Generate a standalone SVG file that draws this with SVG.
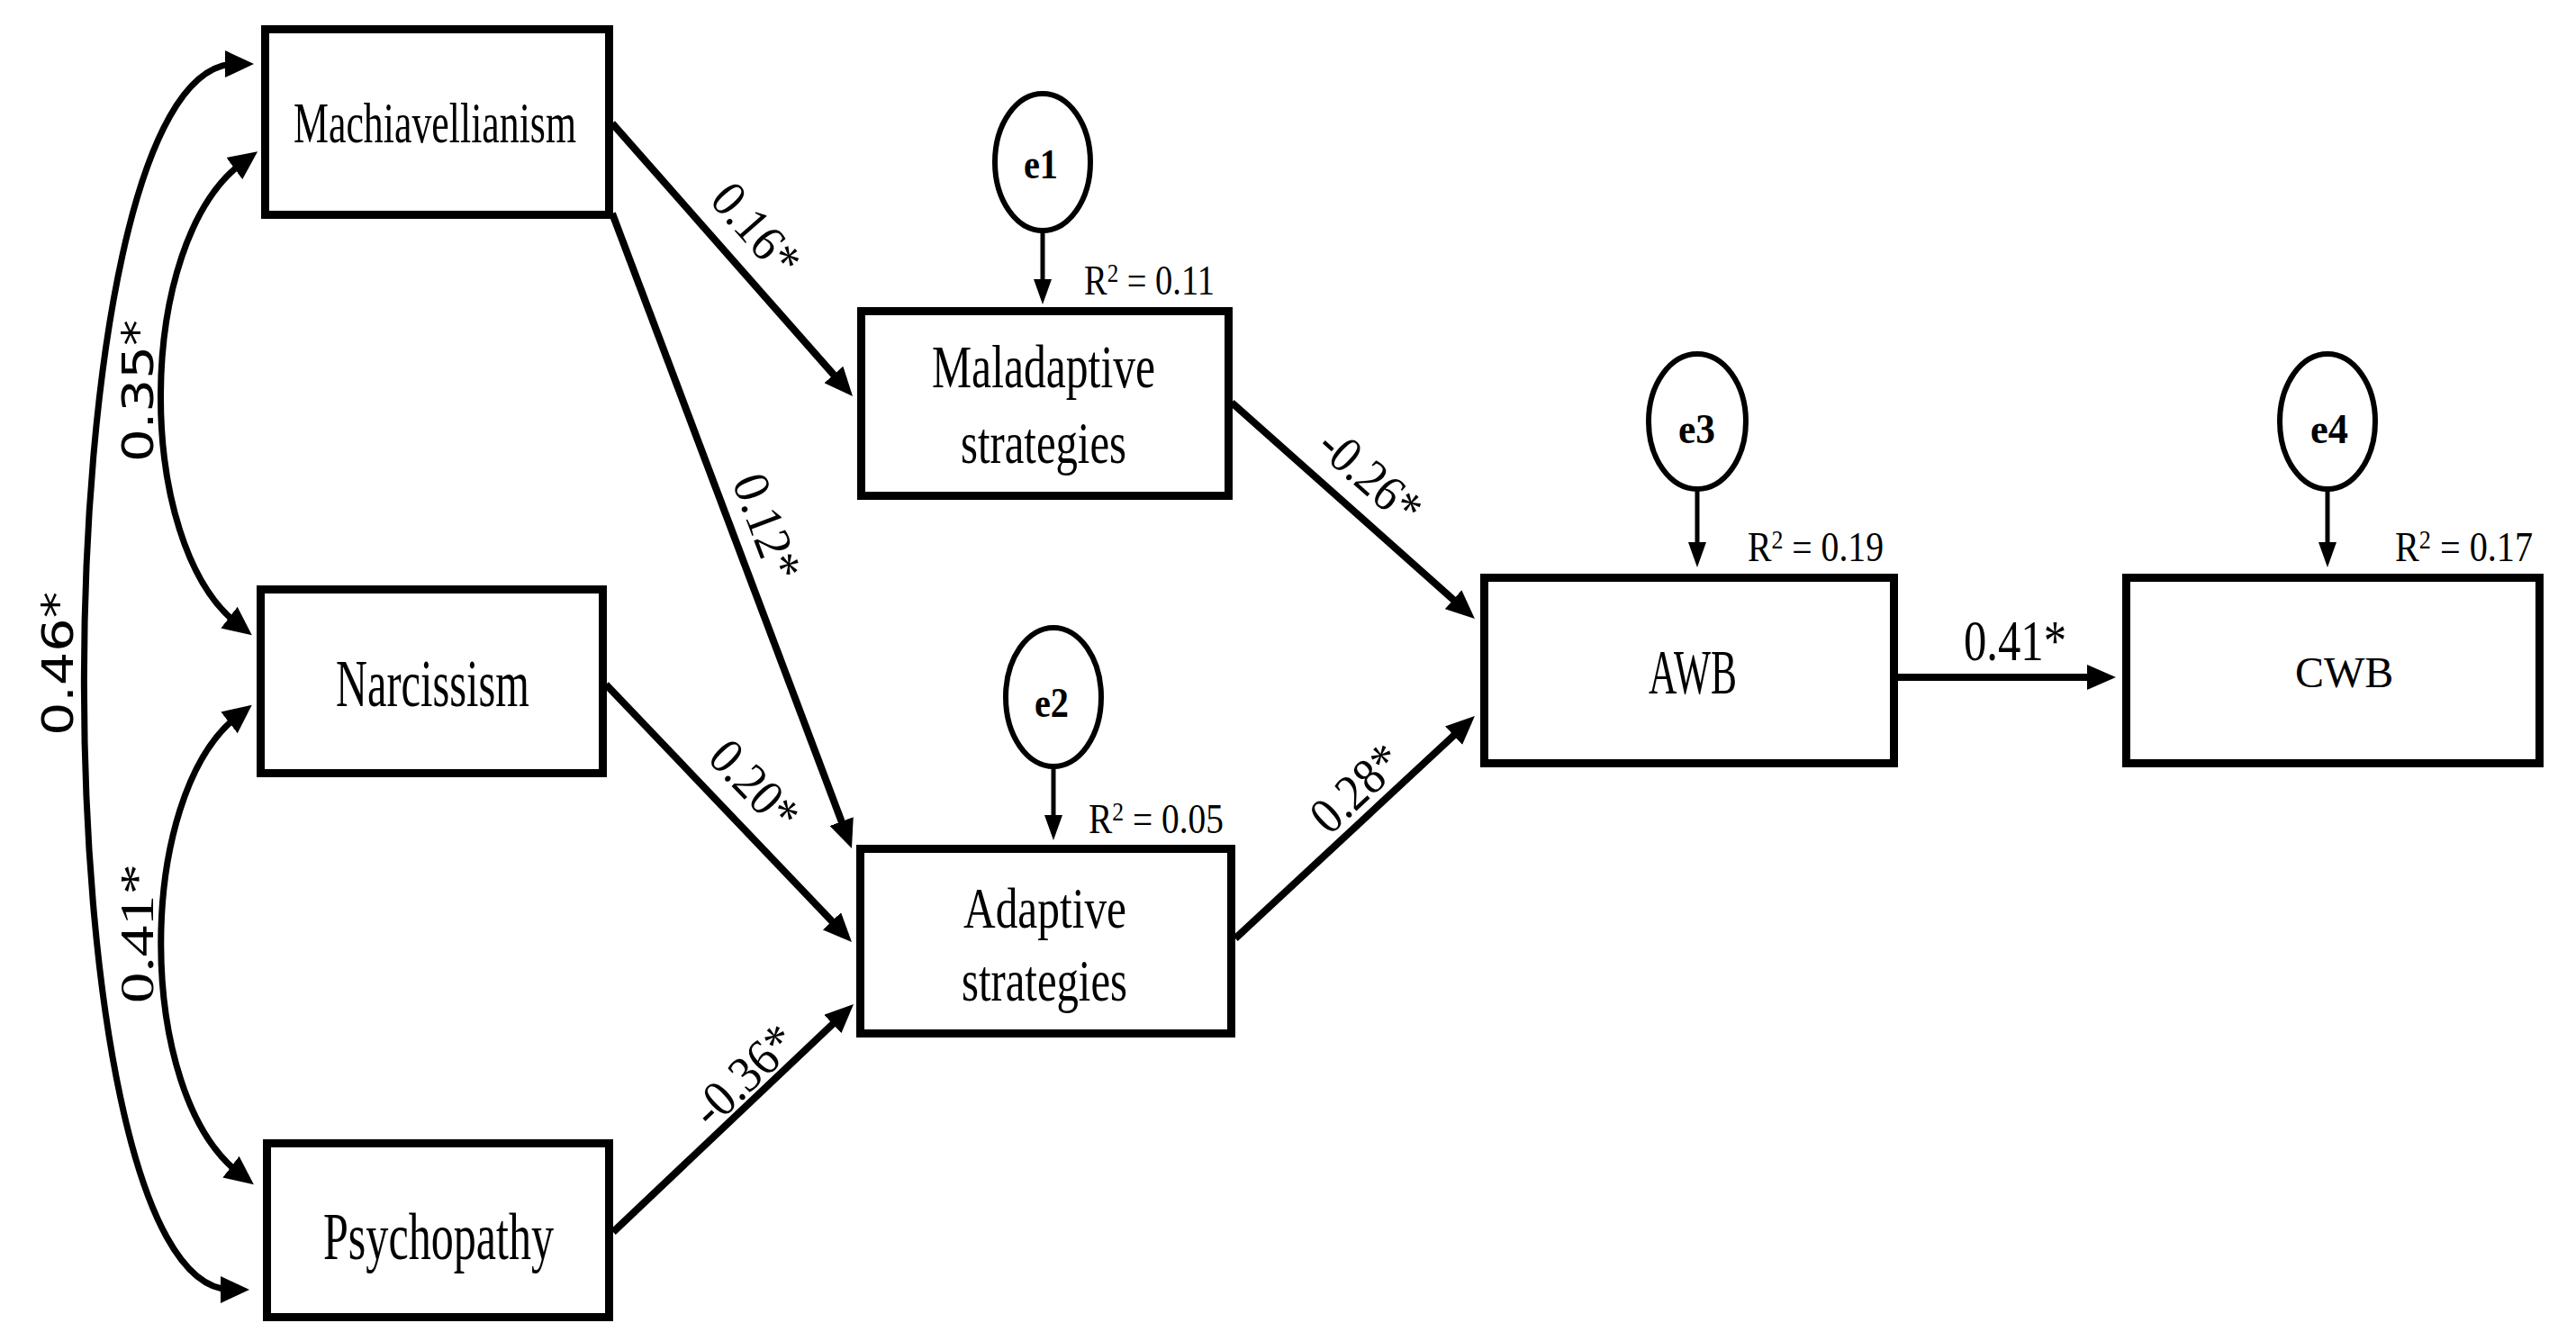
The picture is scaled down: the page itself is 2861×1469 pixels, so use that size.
<svg xmlns="http://www.w3.org/2000/svg" width="2861" height="1469" viewBox="0 0 2861 1469">
<style>
.box{fill:#fff;stroke:#000;stroke-width:9}
.lat{fill:#fff;stroke:#000;stroke-width:6}
.edge{fill:none;stroke:#000;stroke-width:8;marker-end:url(#arr)}
.cov{fill:none;stroke:#000;stroke-width:7;marker-start:url(#arrC);marker-end:url(#arrC)}
.err{fill:none;stroke:#000;stroke-width:5;marker-end:url(#arrS)}
.t{font-family:"Liberation Serif","Times New Roman",serif;fill:#000}
.s{font-family:"DejaVu Sans","Liberation Sans",sans-serif;fill:#000}
.b{font-weight:bold}
</style>
<defs>
<marker id="arr" markerUnits="userSpaceOnUse" markerWidth="32" markerHeight="28" refX="12" refY="14" orient="auto"><path d="M0,0 L32,14 L0,28 z" fill="#000"/></marker>
<marker id="arrC" markerUnits="userSpaceOnUse" markerWidth="32" markerHeight="30" refX="12" refY="15" orient="auto-start-reverse"><path d="M0,0 L32,15 L0,30 z" fill="#000"/></marker>
<marker id="arrS" markerUnits="userSpaceOnUse" markerWidth="28" markerHeight="20" refX="10" refY="10" orient="auto"><path d="M0,0 L28,10 L0,20 z" fill="#000"/></marker>
</defs>
<rect width="2861" height="1469" fill="#fff"/>

<g id="connectors">
<path class="cov" d="M262,71 C38,71 38,1432 257,1432"/>
<path class="cov" d="M270,180 C149,269 149,604 264,693"/>
<path class="cov" d="M264,795 C150,884 150,1214 266,1303"/>
<line class="edge" x1="680" y1="137" x2="933.8" y2="425"/>
<line class="edge" x1="680" y1="237" x2="938.9" y2="923.3"/>
<line class="edge" x1="673" y1="760" x2="932.2" y2="1031.5"/>
<line class="edge" x1="681" y1="1368" x2="933.5" y2="1128.8"/>
<line class="edge" x1="1368" y1="447" x2="1623" y2="673.7"/>
<line class="edge" x1="1372" y1="1042" x2="1623.3" y2="808.6"/>
<line class="edge" x1="2108" y1="752" x2="2330" y2="752"/>
<line class="err" x1="1158" y1="256" x2="1158" y2="320"/>
<line class="err" x1="1170" y1="850" x2="1170" y2="915"/>
<line class="err" x1="1885" y1="544" x2="1885" y2="612"/>
<line class="err" x1="2585" y1="544" x2="2585" y2="612"/>
<text class="s" transform="translate(64,737) rotate(-90)" x="-80" y="17" font-size="48" textLength="160" lengthAdjust="spacingAndGlyphs">0.46*</text>
<text class="s" transform="translate(153,434) rotate(-90)" x="-79" y="17" font-size="48" textLength="158" lengthAdjust="spacingAndGlyphs">0.35*</text>
<text class="t" transform="translate(153,1036) rotate(-90)" x="-78" y="17" font-size="52" textLength="155" lengthAdjust="spacingAndGlyphs">0.41*</text>
<text class="t" transform="translate(840,255) rotate(48.6)" x="-59" y="19" font-size="57" textLength="118" lengthAdjust="spacingAndGlyphs">0.16*</text>
<text class="t" transform="translate(852,585) rotate(69.3)" x="-61" y="19" font-size="57" textLength="122" lengthAdjust="spacingAndGlyphs">0.12*</text>
<text class="t" transform="translate(838,872) rotate(46.3)" x="-58" y="19" font-size="57" textLength="116" lengthAdjust="spacingAndGlyphs">0.20*</text>
<text class="t" transform="translate(826,1194) rotate(-43.5)" x="-68" y="19" font-size="57" textLength="136" lengthAdjust="spacingAndGlyphs">-0.36*</text>
<text class="t" transform="translate(1522,529) rotate(41.6)" x="-66" y="19" font-size="57" textLength="132" lengthAdjust="spacingAndGlyphs">-0.26*</text>
<text class="t" transform="translate(1506,875) rotate(-42.9)" x="-58" y="19" font-size="57" textLength="116" lengthAdjust="spacingAndGlyphs">0.28*</text>
<text class="t" x="2181" y="733" font-size="64" textLength="114" lengthAdjust="spacingAndGlyphs">0.41*</text>
</g>

<g id="machiavellianism">
<rect class="box" x="294.5" y="32.5" width="382" height="206"/>
<text class="t" x="326" y="158" font-size="64" textLength="314" lengthAdjust="spacingAndGlyphs">Machiavellianism</text>
</g>
<g id="narcissism">
<rect class="box" x="289.5" y="654.5" width="380" height="204"/>
<text class="t" x="373" y="784" font-size="74" textLength="215" lengthAdjust="spacingAndGlyphs">Narcissism</text>
</g>
<g id="psychopathy">
<rect class="box" x="296.5" y="1269.5" width="380" height="193"/>
<text class="t" x="359" y="1398" font-size="74" textLength="256" lengthAdjust="spacingAndGlyphs">Psychopathy</text>
</g>
<g id="maladaptive">
<rect class="box" x="956.5" y="345.5" width="408" height="205"/>
<text class="t" x="1035" y="430" font-size="68" textLength="248" lengthAdjust="spacingAndGlyphs">Maladaptive</text>
<text class="t" x="1067" y="514" font-size="66" textLength="184" lengthAdjust="spacingAndGlyphs">strategies</text>
<text class="t" x="1204" y="327" font-size="46" textLength="145" lengthAdjust="spacingAndGlyphs">R<tspan dy="-14" font-size="30">2</tspan><tspan dy="14"> = 0.11</tspan></text>
</g>
<g id="adaptive">
<rect class="box" x="955.5" y="942.5" width="412" height="205"/>
<text class="t" x="1070" y="1030" font-size="64" textLength="181" lengthAdjust="spacingAndGlyphs">Adaptive</text>
<text class="t" x="1068" y="1111" font-size="66" textLength="184" lengthAdjust="spacingAndGlyphs">strategies</text>
<text class="t" x="1209" y="925" font-size="46" textLength="150" lengthAdjust="spacingAndGlyphs">R<tspan dy="-14" font-size="30">2</tspan><tspan dy="14"> = 0.05</tspan></text>
</g>
<g id="awb">
<rect class="box" x="1648.5" y="641.5" width="455" height="206"/>
<text class="t" x="1831" y="770" font-size="70" textLength="98" lengthAdjust="spacingAndGlyphs">AWB</text>
<text class="t" x="1941" y="623" font-size="46" textLength="151" lengthAdjust="spacingAndGlyphs">R<tspan dy="-14" font-size="30">2</tspan><tspan dy="14"> = 0.19</tspan></text>
</g>
<g id="cwb">
<rect class="box" x="2361.5" y="641.5" width="459" height="206"/>
<text class="t" x="2549" y="763" font-size="48">CWB</text>
<text class="t" x="2660" y="623" font-size="46" textLength="153" lengthAdjust="spacingAndGlyphs">R<tspan dy="-14" font-size="30">2</tspan><tspan dy="14"> = 0.17</tspan></text>
</g>
<g id="e1">
<ellipse class="lat" cx="1158" cy="180" rx="53" ry="76"/>
<text class="t b" x="1137" y="198" font-size="46" textLength="38" lengthAdjust="spacingAndGlyphs">e1</text>
</g>
<g id="e2">
<ellipse class="lat" cx="1170" cy="774" rx="53" ry="77"/>
<text class="t b" x="1149" y="796" font-size="46" textLength="38" lengthAdjust="spacingAndGlyphs">e2</text>
</g>
<g id="e3">
<ellipse class="lat" cx="1885" cy="468" rx="54" ry="75"/>
<text class="t b" x="1864" y="492" font-size="46" textLength="41" lengthAdjust="spacingAndGlyphs">e3</text>
</g>
<g id="e4">
<ellipse class="lat" cx="2585" cy="468" rx="53" ry="75"/>
<text class="t b" x="2566" y="492" font-size="46" textLength="42" lengthAdjust="spacingAndGlyphs">e4</text>
</g>
</svg>
